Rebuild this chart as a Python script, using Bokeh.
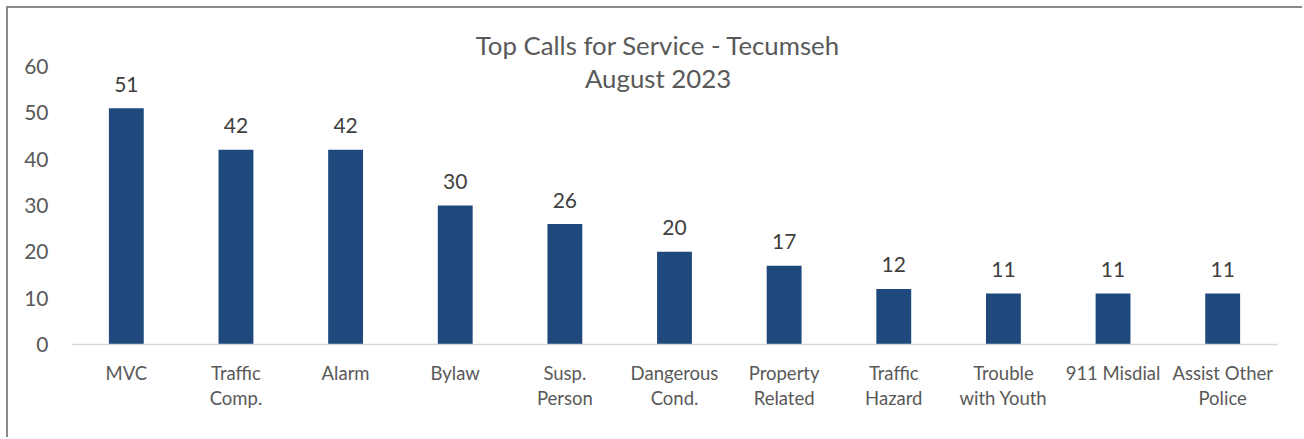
from bokeh.plotting import figure
from bokeh.models import ColumnDataSource, LabelSet, Label, Range1d, FixedTicker
from bokeh.core.properties import value
from bokeh.embed import file_html
from bokeh.resources import INLINE

categories = ["MVC", "Traffic\nComp.", "Alarm", "Bylaw", "Susp.\nPerson",
              "Dangerous\nCond.", "Property\nRelated", "Traffic\nHazard",
              "Trouble\nwith Youth", "911 Misdial", "Assist Other\nPolice"]
calls = [51, 42, 42, 30, 26, 20, 17, 12, 11, 11, 11]
y_ticks = [0, 10, 20, 30, 40, 50, 60]
title_lines = ["Top Calls for Service - Tecumseh", "August 2023"]

FONT = "Lato"
BAR = "#1F497D"
GREY = "#595959"

pos = list(range(len(categories)))
source = ColumnDataSource(dict(x=pos, val=calls, lab=[str(v) for v in calls]))

p = figure(width=1296, height=431, x_range=Range1d(-0.5, len(categories) - 0.5),
           y_range=Range1d(0, 72.5), output_backend="svg", toolbar_location=None,
           min_border_left=63, min_border_right=27, min_border_top=0, min_border_bottom=95)
p.styles = {"margin-left": "6px", "margin-top": "6px",
            "border-left": "2px solid #8a8a8a", "border-top": "2px solid #8a8a8a"}

p.vbar(x="x", top="val", width=0.318, source=source, fill_color=BAR, line_color=None)

p.add_layout(LabelSet(x="x", y="val", text="lab", source=source, y_offset=24,
                      text_align="center", text_baseline="middle",
                      text_font=value(FONT), text_font_size="21px", text_color="#404040"))

p.add_layout(Label(x=4.85, y=64.7, text=title_lines[0], text_align="center",
                   text_baseline="middle", text_font=FONT, text_font_size="25.8px",
                   text_color=GREY))
p.add_layout(Label(x=4.85, y=57.5, text=title_lines[1], text_align="center",
                   text_baseline="middle", text_font=FONT, text_font_size="25.8px",
                   text_color=GREY))

p.xgrid.grid_line_color = None
p.ygrid.grid_line_color = None
p.outline_line_color = None

p.yaxis.ticker = FixedTicker(ticks=y_ticks)
p.yaxis.axis_line_color = None
p.yaxis.major_tick_line_color = None
p.yaxis.minor_tick_line_color = None
p.yaxis.major_label_standoff = 17
p.yaxis.major_label_text_font = FONT
p.yaxis.major_label_text_font_size = "21px"
p.yaxis.major_label_text_color = GREY

p.xaxis.ticker = FixedTicker(ticks=pos)
p.xaxis.major_label_overrides = {i: c for i, c in zip(pos, categories)}
p.xaxis.axis_line_color = "#D9D9D9"
p.xaxis.axis_line_width = 1.5
p.xaxis.major_tick_line_color = None
p.xaxis.minor_tick_line_color = None
p.xaxis.major_label_standoff = 11
p.xaxis.major_label_text_font = FONT
p.xaxis.major_label_text_font_size = "18.5px"
p.xaxis.major_label_text_color = GREY
p.xaxis.major_label_text_line_height = 1.16

open("out.html", "w").write(file_html(p, INLINE))
